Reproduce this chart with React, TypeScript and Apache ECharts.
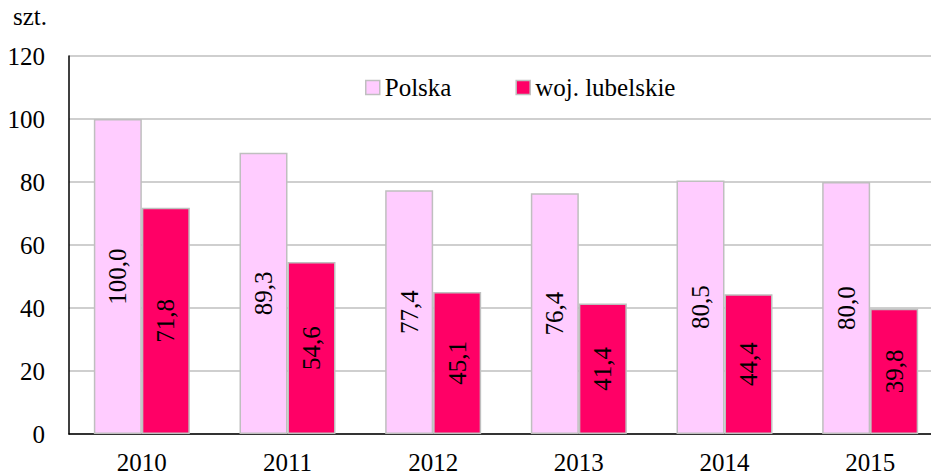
import React, { useEffect, useRef } from "react";
import * as echarts from "echarts";

const categories = ["2010", "2011", "2012", "2013", "2014", "2015"];
const polska = [100.0, 89.3, 77.4, 76.4, 80.5, 80.0];
const lubelskie = [71.8, 54.6, 45.1, 41.4, 44.4, 39.8];
const seriesNames = ["Polska", "woj. lubelskie"];
const unit = "szt.";

const fmt = (v: number) => v.toFixed(1).replace(".", ",");
const FONT = "Liberation Serif, Times New Roman, serif";
const FS = 25;

export default function App() {
  const ref = useRef<HTMLDivElement>(null);
  useEffect(() => {
    if (!ref.current) return;
    const chart = echarts.init(ref.current, undefined, { renderer: "svg" });
    const label = {
      show: true,
      position: "inside",
      rotate: 90,
      color: "#000",
      fontFamily: FONT,
      fontSize: FS,
      formatter: (p: any) => fmt(p.value),
    };
    chart.setOption({
      animation: false,
      textStyle: { fontFamily: FONT, fontSize: FS },
      grid: {
        left: 69,
        width: 874,
        top: 56,
        height: 378,
        containLabel: false,
        outerBoundsMode: "none",
      },
      legend: {
        top: 70,
        left: 360,
        itemGap: 64,
        itemWidth: 14,
        itemHeight: 14,
        icon: "rect",
        textStyle: { fontFamily: FONT, fontSize: FS, color: "#000" },
        data: seriesNames.map((n) => ({
          name: n,
          itemStyle: { borderColor: "#BFBFBF", borderWidth: 1.5 },
        })),
      },
      graphic: [
        {
          type: "text",
          left: 13,
          top: 4,
          style: { text: unit, fontFamily: FONT, fontSize: FS, fill: "#000" },
        },
      ],
      xAxis: {
        type: "category",
        data: categories,
        axisLine: { lineStyle: { color: "#000", width: 1.5 } },
        axisTick: { show: false },
        axisLabel: { color: "#000", fontFamily: FONT, fontSize: FS, margin: 16 },
      },
      yAxis: {
        type: "value",
        min: 0,
        max: 120,
        interval: 20,
        axisLine: { show: true, lineStyle: { color: "#000", width: 1.5 } },
        axisTick: { show: false },
        splitLine: { lineStyle: { color: "#BFBFBF", width: 1.5 } },
        axisLabel: { color: "#000", fontFamily: FONT, fontSize: FS, margin: 24 },
      },
      series: [
        {
          name: seriesNames[0],
          type: "bar",
          data: polska,
          barWidth: 48,
          barGap: "0%",
          itemStyle: { color: "#FFCCFF", borderColor: "#BFBFBF", borderWidth: 1.5 },
          label,
        },
        {
          name: seriesNames[1],
          type: "bar",
          data: lubelskie,
          barWidth: 48,
          barGap: "0%",
          itemStyle: { color: "#FF0066", borderColor: "#BFBFBF", borderWidth: 1.5 },
          label,
        },
      ],
    });
    return () => chart.dispose();
  }, []);
  return <div ref={ref} style={{ width: 931, height: 476, position: "absolute", left: 0, top: 0 }} />;
}
